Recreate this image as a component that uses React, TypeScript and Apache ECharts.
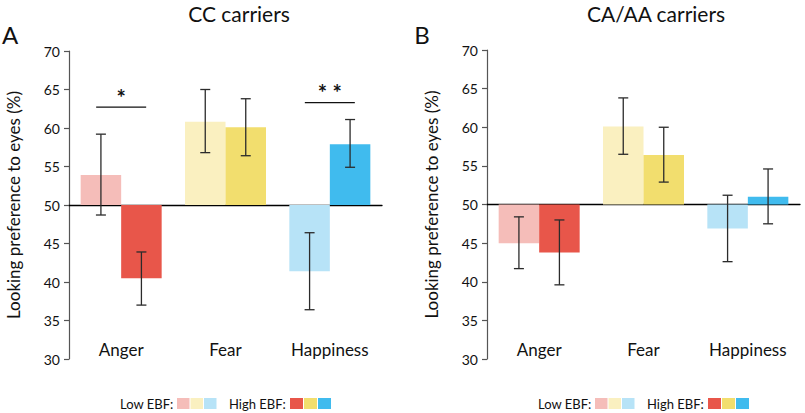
import React, { useEffect, useRef } from 'react';
import * as echarts from 'echarts';

const categories = ['Anger', 'Fear', 'Happiness'];
const yTickValues = [30, 35, 40, 45, 50, 55, 60, 65, 70];

// Panel A: CC carriers
const ccLow = [53.9, 60.8, 41.4];
const ccLowErrLo = [48.7, 56.8, 36.4];
const ccLowErrHi = [59.2, 65.0, 46.4];
const ccHigh = [40.5, 60.1, 57.9];
const ccHighErrLo = [37.0, 56.4, 54.9];
const ccHighErrHi = [43.9, 63.8, 61.1];
const ccSigCategory = [0, 2];
const ccSigLevel = [62.7, 63.3];
const ccSigLabel = ['*', '* *'];

// Panel B: CA/AA carriers
const caLow = [45.0, 60.1, 46.9];
const caLowErrLo = [41.7, 56.5, 42.6];
const caLowErrHi = [48.4, 63.8, 51.2];
const caHigh = [43.8, 56.4, 51.0];
const caHighErrLo = [39.6, 52.9, 47.5];
const caHighErrHi = [48.0, 60.0, 54.6];

const lowColors = ['#F5BDB9', '#FAF0C0', '#B7E3F7'];
const highColors = ['#E8564A', '#F2DE6E', '#40BBEE'];

const BASE = 50;
const BAR_W = 40.5;
const CAP = 5;
const ERR_COLOR = '#2b2b2b';
const FONT = 'Lato, "Noto Sans", sans-serif';
const TEXT_COLOR = '#111';

const errRender = (side: number) => (params: any, api: any) => {
  const cat = api.value(0);
  const c = api.coord([cat, 0]);
  const x = c[0] + (side * BAR_W) / 2;
  const y1 = api.coord([cat, api.value(1)])[1];
  const y2 = api.coord([cat, api.value(2)])[1];
  const style = { stroke: ERR_COLOR, lineWidth: 1.3 };
  return {
    type: 'group',
    children: [
      { type: 'line', shape: { x1: x, y1: y1, x2: x, y2: y2 }, style },
      { type: 'line', shape: { x1: x - CAP, y1: y1, x2: x + CAP, y2: y1 }, style },
      { type: 'line', shape: { x1: x - CAP, y1: y2, x2: x + CAP, y2: y2 }, style },
    ],
  };
};

const sigRender = (labels: string[]) => (params: any, api: any) => {
  const cat = api.value(0);
  const p = api.coord([cat, api.value(1)]);
  return {
    type: 'group',
    children: [
      {
        type: 'line',
        shape: { x1: p[0] - 25, y1: p[1], x2: p[0] + 25, y2: p[1] },
        style: { stroke: '#111', lineWidth: 1.3 },
      },
      {
        type: 'text',
        x: p[0],
        y: p[1] - 10,
        style: {
          text: labels[params.dataIndex],
          fill: '#111',
          fontSize: 22,
          fontWeight: 'bold',
          fontFamily: FONT,
          align: 'center',
          verticalAlign: 'middle',
        },
      },
    ],
  };
};

function panelSeries(
  xLine: number,
  yIdx: number,
  low: number[],
  lowLo: number[],
  lowHi: number[],
  high: number[],
  highLo: number[],
  highHi: number[]
) {
  return [
    {
      type: 'bar',
      xAxisIndex: xLine,
      yAxisIndex: yIdx,
      barWidth: BAR_W,
      barGap: '0%',
      data: low.map((v, i) => ({ value: v - BASE, itemStyle: { color: lowColors[i] } })),
    },
    {
      type: 'bar',
      xAxisIndex: xLine,
      yAxisIndex: yIdx,
      barWidth: BAR_W,
      barGap: '0%',
      data: high.map((v, i) => ({ value: v - BASE, itemStyle: { color: highColors[i] } })),
    },
    {
      type: 'custom',
      xAxisIndex: xLine,
      yAxisIndex: yIdx,
      renderItem: errRender(-1),
      encode: { x: 0, y: [1, 2] },
      data: low.map((_, i) => [i, lowLo[i] - BASE, lowHi[i] - BASE]),
      z: 5,
    },
    {
      type: 'custom',
      xAxisIndex: xLine,
      yAxisIndex: yIdx,
      renderItem: errRender(1),
      encode: { x: 0, y: [1, 2] },
      data: high.map((_, i) => [i, highLo[i] - BASE, highHi[i] - BASE]),
      z: 5,
    },
  ];
}

function yAxisFor(gridIndex: number) {
  return {
    type: 'value',
    gridIndex,
    min: yTickValues[0] - BASE,
    max: yTickValues[yTickValues.length - 1] - BASE,
    interval: yTickValues[1] - yTickValues[0],
    name: 'Looking preference to eyes (%)',
    nameLocation: 'middle',
    nameGap: 47,
    nameTextStyle: { fontSize: 17, color: TEXT_COLOR, fontFamily: FONT },
    axisLine: { show: true, lineStyle: { color: '#555', width: 1.2 } },
    axisTick: { show: true, length: 5, lineStyle: { color: '#555', width: 1.2 } },
    axisLabel: {
      fontSize: 14,
      color: TEXT_COLOR,
      fontFamily: FONT,
      margin: 9,
      formatter: (v: number) => String(v + BASE),
    },
    splitLine: { show: false },
  };
}

function xAxesFor(gridIndex: number) {
  return [
    {
      type: 'category',
      gridIndex,
      data: categories,
      position: 'bottom',
      axisLine: { show: true, onZero: true, lineStyle: { color: '#000', width: 1.3 } },
      axisTick: { show: false },
      axisLabel: { show: false },
    },
    {
      type: 'category',
      gridIndex,
      data: categories,
      position: 'bottom',
      axisLine: { show: false, onZero: false },
      axisTick: { show: false },
      axisLabel: {
        show: true,
        interval: 0,
        margin: -10,
        verticalAlign: 'middle',
        fontSize: 17,
        color: TEXT_COLOR,
        fontFamily: FONT,
      },
    },
  ];
}

function legendGraphics(dx: number) {
  const items: any[] = [];
  const textStyle = { fontSize: 13, fill: TEXT_COLOR, fontFamily: FONT, verticalAlign: 'middle', textVerticalAlign: 'middle' };
  items.push({ type: 'text', x: 120 + dx, y: 404, style: { ...textStyle, text: 'Low EBF:' } });
  const lowX = [177, 190.5, 204];
  lowColors.forEach((c, i) =>
    items.push({ type: 'rect', shape: { x: lowX[i] + dx, y: 398, width: 12.5, height: 11 }, style: { fill: c } })
  );
  items.push({ type: 'text', x: 229 + dx, y: 404, style: { ...textStyle, text: 'High EBF:' } });
  const highX = [290, 304, 318];
  highColors.forEach((c, i) =>
    items.push({ type: 'rect', shape: { x: highX[i] + dx, y: 398, width: 13, height: 11 }, style: { fill: c } })
  );
  return items;
}

function titleText(text: string, x: number, y: number, size: number) {
  return {
    type: 'text',
    x,
    y,
    style: {
      text,
      fontSize: size,
      fill: TEXT_COLOR,
      fontFamily: FONT,
      align: 'center',
      verticalAlign: 'middle',
      textAlign: 'center',
      textVerticalAlign: 'middle',
    },
  };
}

export default function App() {
  const ref = useRef<HTMLDivElement>(null);
  useEffect(() => {
    document.body.style.margin = '0';
    if (!ref.current) return;
    const chart = echarts.init(ref.current, undefined, { renderer: 'svg' });
    const option: any = {
      animation: false,
      backgroundColor: '#fff',
      grid: [
        { left: 69, top: 51, width: 313, height: 308, containLabel: false },
        { left: 487, top: 50, width: 313, height: 309, containLabel: false },
      ],
      xAxis: [...xAxesFor(0), ...xAxesFor(1)],
      yAxis: [yAxisFor(0), yAxisFor(1)],
      series: [
        ...panelSeries(0, 0, ccLow, ccLowErrLo, ccLowErrHi, ccHigh, ccHighErrLo, ccHighErrHi),
        ...panelSeries(2, 1, caLow, caLowErrLo, caLowErrHi, caHigh, caHighErrLo, caHighErrHi),
        {
          type: 'custom',
          xAxisIndex: 0,
          yAxisIndex: 0,
          renderItem: sigRender(ccSigLabel),
          encode: { x: 0, y: 1 },
          data: ccSigCategory.map((c, i) => [c, ccSigLevel[i] - BASE]),
          z: 6,
        },
      ],
      graphic: [
        titleText('CC carriers', 239, 13, 21),
        titleText('CA/AA carriers', 656, 13, 21),
        titleText('A', 10, 34, 24),
        titleText('B', 422, 34, 24),
        ...legendGraphics(0),
        ...legendGraphics(418),
      ],
    };
    chart.setOption(option);
    return () => chart.dispose();
  }, []);
  return <div ref={ref} style={{ width: 805, height: 413 }} />;
}
